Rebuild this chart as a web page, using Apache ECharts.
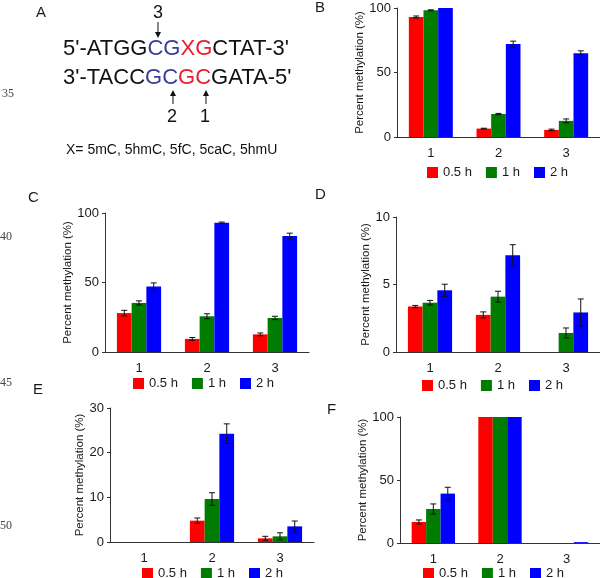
<!DOCTYPE html>
<html><head><meta charset="utf-8">
<script src="https://cdn.jsdelivr.net/npm/echarts@6/dist/echarts.min.js"></script>
<style>html,body{margin:0;padding:0;background:#fff}#c{width:600px;height:578px}</style>
</head><body><div id="c"></div>
<script>
const categories = ['1','2','3'];
const seriesNames = ['0.5 h','1 h','2 h'];
const colors = ['#ff0000','#007d00','#0000ff'];
// Panel B
const B_05 = [93, 6.5, 5.5],   B_05_err = [0.8, 0.3, 0.6];
const B_1  = [98.2, 17.8, 12.5], B_1_err = [0.4, 0.5, 1.5];
const B_2  = [100, 72, 65],    B_2_err = [0, 2.3, 1.8];
// Panel C
const C_05 = [28, 9.4, 12.7],  C_05_err = [2, 1, 1];
const C_1  = [35.3, 25.7, 24.5], C_1_err = [1.5, 1.8, 1.2];
const C_2  = [47.2, 93, 83.5], C_2_err = [2.5, 0.5, 2];
// Panel D
const D_05 = [3.37, 2.75, 0],  D_05_err = [0.08, 0.22, 0];
const D_1  = [3.65, 4.1, 1.41], D_1_err = [0.17, 0.4, 0.37];
const D_2  = [4.57, 7.17, 2.93], D_2_err = [0.45, 0.78, 1];
// Panel E
const E_05 = [0, 4.78, 0.82],  E_05_err = [0, 0.6, 0.45];
const E_1  = [0, 9.63, 1.27],  E_1_err = [0, 1.4, 0.8];
const E_2  = [0, 24.25, 3.5],  E_2_err = [0, 2.2, 1.2];
// Panel F
const F_05 = [16.7, 100, 0],   F_05_err = [1.6, 0, 0];
const F_1  = [27, 100, 0],     F_1_err = [4, 0, 0];
const F_2  = [39.2, 100, 0.7], F_2_err = [5, 0, 0];
// axis ticks
const yMax = [100, 100, 10, 30, 100];
const yStep = [50, 50, 5, 10, 50];

const panels = [
  {vals:[B_05,B_1,B_2], errs:[B_05_err,B_1_err,B_2_err], grid:{left:397,top:8,width:204,height:129}, legend:{left:427,top:166}},
  {vals:[C_05,C_1,C_2], errs:[C_05_err,C_1_err,C_2_err], grid:{left:105,top:213,width:204,height:139}, legend:{left:133,top:377}},
  {vals:[D_05,D_1,D_2], errs:[D_05_err,D_1_err,D_2_err], grid:{left:396,top:217,width:204,height:135}, legend:{left:422,top:379}},
  {vals:[E_05,E_1,E_2], errs:[E_05_err,E_1_err,E_2_err], grid:{left:110,top:408,width:204,height:134}, legend:{left:142,top:567}},
  {vals:[F_05,F_1,F_2], errs:[F_05_err,F_1_err,F_2_err], grid:{left:400,top:417,width:204,height:126}, legend:{left:423,top:567}}
];

const axisCol = '#333';
const txtCol = '#1a1a1a';
const font = 'Liberation Sans, Arial, sans-serif';
const grids=[], xAxes=[], yAxes=[], series=[], legends=[];
const GAP = 0.35;
panels.forEach((p, i) => {
  grids.push(Object.assign({containLabel:false}, p.grid));
  xAxes.push({type:'category', gridIndex:i, data:categories,
    axisLine:{lineStyle:{color:axisCol,width:1}},
    axisTick:{inside:true,length:3,lineStyle:{color:axisCol}},
    axisLabel:{color:txtCol,fontSize:13,fontFamily:font,margin:10}});
  yAxes.push({type:'value', gridIndex:i, min:0, max:yMax[i], interval:yStep[i],
    name:'Percent methylation (%)', nameLocation:'middle', nameGap:22,
    nameTextStyle:{color:txtCol,fontSize:11.5,fontFamily:font},
    axisLine:{show:true,lineStyle:{color:axisCol,width:1}},
    axisTick:{show:true,length:3,lineStyle:{color:axisCol}},
    axisLabel:{color:txtCol,fontSize:13,fontFamily:font,margin:6},
    splitLine:{show:false}});
  p.vals.forEach((v, s) => {
    series.push({type:'bar', name:seriesNames[s], xAxisIndex:i, yAxisIndex:i,
      data:v, barGap:'0%', barCategoryGap:(GAP*100)+'%',
      itemStyle:{color:colors[s]}, emphasis:{disabled:true}, animation:false});
  });
  p.vals.forEach((v, s) => {
    const data = v.map((val, k) => [k, val, p.errs[s][k]]);
    series.push({type:'custom', xAxisIndex:i, yAxisIndex:i, data:data, z:10, silent:true,
      animation:false, encode:{x:0,y:1},
      renderItem:(params, api) => {
        const k = api.value(0), y = api.value(1), e = api.value(2);
        if (!e) return;
        const band = api.size([1,0])[0];
        const bw = band*(1-GAP)/3;
        const c = api.coord([k, y]);
        const cx = c[0] + (s-1)*bw;
        const t = api.coord([k, y+e])[1];
        const b = api.coord([k, y-e])[1];
        const st = {stroke:'#111', lineWidth:1};
        return {type:'group', children:[
          {type:'line', shape:{x1:cx,y1:t,x2:cx,y2:b}, style:st},
          {type:'line', shape:{x1:cx-3,y1:t,x2:cx+3,y2:t}, style:st},
          {type:'line', shape:{x1:cx-3,y1:b,x2:cx+3,y2:b}, style:st}
        ]};
      }});
  });
  legends.push({left:p.legend.left, top:p.legend.top, data:seriesNames, icon:'rect',
    itemWidth:11, itemHeight:11, itemGap:14, selectedMode:false,
    textStyle:{color:txtCol,fontSize:13,fontFamily:font}, padding:0});
});

const blue = '#3b3b9c', red = '#e8202a';
const graphic = [
  {type:'text', left:36, top:5, style:{text:'A', fontSize:15, fontFamily:font, fill:txtCol}},
  {type:'text', left:315, top:0, style:{text:'B', fontSize:15, fontFamily:font, fill:txtCol}},
  {type:'text', left:28, top:190, style:{text:'C', fontSize:15, fontFamily:font, fill:txtCol}},
  {type:'text', left:315, top:187, style:{text:'D', fontSize:15, fontFamily:font, fill:txtCol}},
  {type:'text', left:33, top:382, style:{text:'E', fontSize:15, fontFamily:font, fill:txtCol}},
  {type:'text', left:327, top:402, style:{text:'F', fontSize:15, fontFamily:font, fill:txtCol}},
  {type:'text', left:2, top:88, style:{text:'35', fontSize:12, fontFamily:'Liberation Serif, serif', fill:'#444'}},
  {type:'text', left:0, top:231, style:{text:'40', fontSize:12, fontFamily:'Liberation Serif, serif', fill:'#444'}},
  {type:'text', left:0, top:377, style:{text:'45', fontSize:12, fontFamily:'Liberation Serif, serif', fill:'#444'}},
  {type:'text', left:0, top:520, style:{text:'50', fontSize:12, fontFamily:'Liberation Serif, serif', fill:'#444'}},
  {type:'text', x:63, y:38, style:{text:"{k|5'-ATGG}{b|CG}{r|XG}{k|CTAT-3'}", fontSize:22, fontFamily:font,
    rich:{k:{fill:'#111',fontSize:22,fontFamily:font},b:{fill:blue,fontSize:22,fontFamily:font},r:{fill:red,fontSize:22,fontFamily:font}}}},
  {type:'text', x:63, y:67, style:{text:"{k|3'-TACC}{b|GC}{r|GC}{k|GATA-5'}", fontSize:22, fontFamily:font,
    rich:{k:{fill:'#111',fontSize:22,fontFamily:font},b:{fill:blue,fontSize:22,fontFamily:font},r:{fill:red,fontSize:22,fontFamily:font}}}},
  {type:'text', x:153, y:4, style:{text:'3', fontSize:18, fontFamily:font, fill:'#111'}},
  {type:'line', shape:{x1:158,y1:22,x2:158,y2:33}, style:{stroke:'#111',lineWidth:1}},
  {type:'polygon', shape:{points:[[155,32],[161,32],[158,38]]}, style:{fill:'#111'}},
  {type:'text', x:167, y:108, style:{text:'2', fontSize:18, fontFamily:font, fill:'#111'}},
  {type:'line', shape:{x1:173,y1:95,x2:173,y2:104}, style:{stroke:'#111',lineWidth:1}},
  {type:'polygon', shape:{points:[[170,96],[176,96],[173,90]]}, style:{fill:'#111'}},
  {type:'text', x:200, y:108, style:{text:'1', fontSize:18, fontFamily:font, fill:'#111'}},
  {type:'line', shape:{x1:206,y1:95,x2:206,y2:104}, style:{stroke:'#111',lineWidth:1}},
  {type:'polygon', shape:{points:[[203,96],[209,96],[206,90]]}, style:{fill:'#111'}},
  {type:'text', x:66, y:143, style:{text:'X= 5mC, 5hmC, 5fC, 5caC, 5hmU', fontSize:14, fontFamily:font, fill:'#111'}}
];

const chart = echarts.init(document.getElementById('c'), null, {renderer:'canvas'});
chart.setOption({animation:false, grid:grids, xAxis:xAxes, yAxis:yAxes, series:series, legend:legends, graphic:graphic});
</script></body></html>
